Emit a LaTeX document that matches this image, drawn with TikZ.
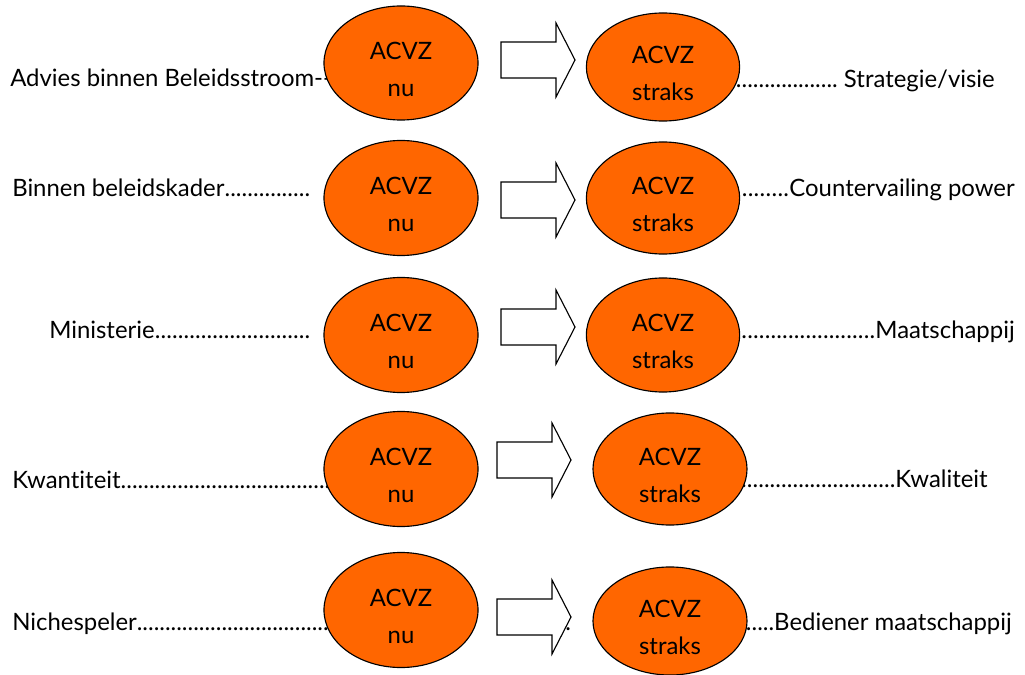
\documentclass[tikz,border=0pt]{standalone}
\usepackage{fontspec}
\setmainfont{Lato}[Ligatures={NoCommon,NoRare,NoContextual}]
\usetikzlibrary{shapes.geometric}
\definecolor{acvzoranje}{RGB}{255,102,0}
\newcommand\puntjes{\xleaders\hbox{.}\hfill}
\tikzset{
  acvz/.style={ellipse,draw,line width=0.8pt,fill=acvzoranje,inner sep=0pt,
    minimum width=3.85cm,minimum height=2.875cm,align=center,text height=48pt,
    font=\fontsize{17}{26.5}\selectfont},
  tekst/.style={inner sep=0pt,font=\fontsize{17}{20}\selectfont},
  pijl/.style={draw,line width=0.8pt,fill=white,line join=miter}
}
\begin{document}
\begin{tikzpicture}[x=0.025cm,y=-0.025cm]
\useasboundingbox (0,0) rectangle (1025,675);
% links
\node[tekst,anchor=base west](links1) at (10,87){Advies binnen Beleidsstroom-{}-};
\node[tekst,anchor=base west](links2) at (12,197){\makebox[7.45cm][l]{Binnen beleidskader\puntjes}};
\node[tekst,anchor=base west](links3) at (49,339){\makebox[6.525cm][l]{Ministerie\puntjes}};
\node[tekst,anchor=base west](links4) at (12,488){\makebox[7.95cm][l]{Kwantiteit\puntjes}};
\node[tekst,anchor=base west](links5) at (12,630){\makebox[8.05cm][l]{Nichespeler\puntjes}};
% rechts
\node[tekst,anchor=base east](rechts1) at (995,88){\makebox[6.75cm][r]{\puntjes\ Strategie/visie}};
\node[tekst,anchor=base east](rechts2) at (1015,197){\makebox[7.125cm][r]{\puntjes Countervailing power}};
\node[tekst,anchor=base east](rechts3) at (1015,339){\makebox[7.125cm][r]{\puntjes Maatschappij}};
\node[tekst,anchor=base east](rechts4) at (988,487){\makebox[6.45cm][r]{\puntjes Kwaliteit}};
\node[tekst,anchor=base east](rechts5) at (1012,630){.....Bediener maatschappij};
% pijlen
\foreach \x/\y in {501/60,501/200,501/327,497/460,497/617}
  \draw[pijl] (\x,\y-18) -- ++(55,0) -- ++(0,-19) -- ++(19,37) -- ++(-19,37) -- ++(0,-19) -- ++(-55,0) -- cycle;
\node[tekst,anchor=base west](punt5) at (565,630){.};
% ellipsen
\node[acvz,minimum height=2.85cm](nu1) at (401,63){ACVZ\\nu};
\node[acvz](nu2) at (401,198){ACVZ\\nu};
\node[acvz](nu3) at (401,335){ACVZ\\nu};
\node[acvz](nu4) at (401,469){ACVZ\\nu};
\node[acvz](nu5) at (401,610){ACVZ\\nu};
\node[acvz,minimum width=3.83cm,minimum height=2.7cm](straks1) at (663,67){ACVZ\\straks};
\node[acvz,minimum width=3.83cm,minimum height=2.8cm](straks2) at (663,198){ACVZ\\straks};
\node[acvz,minimum width=3.83cm,minimum height=2.85cm](straks3) at (663,335){ACVZ\\straks};
\node[acvz,minimum height=2.8cm](straks4) at (670,469){ACVZ\\straks};
\node[acvz,minimum height=2.7cm](straks5) at (670,621){ACVZ\\straks};
\end{tikzpicture}
\end{document}
